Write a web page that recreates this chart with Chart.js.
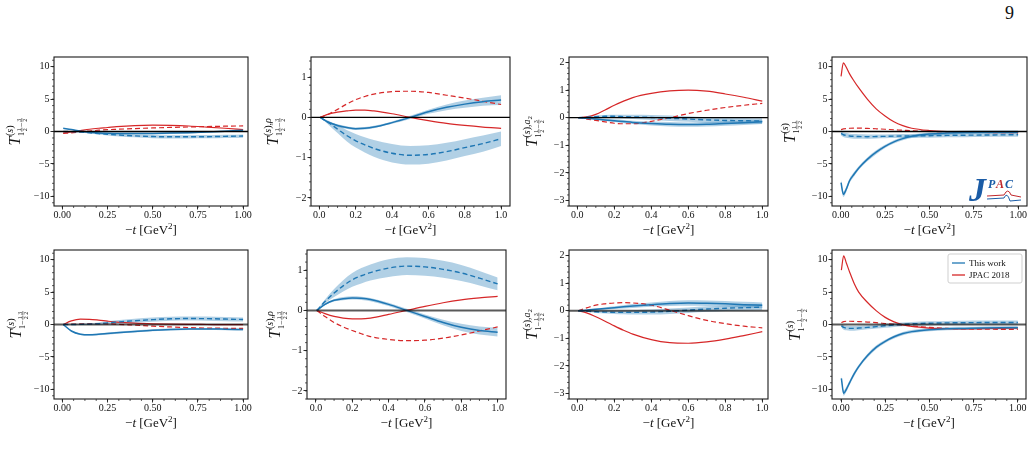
<!DOCTYPE html>
<html>
<head>
<meta charset="utf-8">
<script src="https://cdn.jsdelivr.net/npm/chart.js"></script>
<style>
  body { margin: 0; width: 1034px; height: 457px; overflow: hidden; position: relative; background: #fff;
         font-family: "Liberation Serif", "DejaVu Serif", serif; }
  .panel { position: absolute; }
  #pageno { position: absolute; left: 1005px; top: 3px; font-size: 18px; color: #111; }
</style>
</head>
<body>
<div id="pageno">9</div>
<script>
// ---- data ----
const tCoarse = [0.005, 0.05, 0.1, 0.15, 0.2, 0.25, 0.3, 0.4, 0.5, 0.6, 0.7, 0.8, 0.9, 1.0];
const tFine = [0.002, 0.015, 0.03, 0.05, 0.075, 0.1, 0.15, 0.2, 0.25, 0.3, 0.35, 0.4, 0.5, 0.6, 0.7, 0.8, 0.9, 1.0];

const xTicksQuarter = [0, 0.25, 0.5, 0.75, 1];
const xTicksFifth = [0, 0.2, 0.4, 0.6, 0.8, 1];
const yTicksWide = [-10, -5, 0, 5, 10];
const yTicksRho = [-2, -1, 0, 1];
const yTicksA2 = [-3, -2, -1, 0, 1, 2];

const legendLabels = ['This work', 'JPAC 2018'];

// row 1, col 1
const p1BlueSolid = [0.5, 0.3, 0.05, -0.12, -0.22, -0.28, -0.3, -0.32, -0.3, -0.25, -0.18, -0.08, 0.05, 0.2];
const p1BlueSolidErr = [0.05, 0.05, 0.06, 0.08, 0.1, 0.1, 0.1, 0.12, 0.12, 0.12, 0.12, 0.12, 0.12, 0.12];
const p1BlueDashed = [0, -0.02, -0.1, -0.2, -0.32, -0.42, -0.52, -0.68, -0.78, -0.82, -0.82, -0.8, -0.75, -0.7];
const p1BlueDashedErr = [0.05, 0.08, 0.1, 0.12, 0.15, 0.18, 0.2, 0.22, 0.25, 0.25, 0.25, 0.25, 0.25, 0.25];
const p1RedSolid = [-0.25, -0.05, 0.15, 0.35, 0.5, 0.62, 0.75, 0.92, 0.98, 0.95, 0.85, 0.68, 0.5, 0.3];
const p1RedDashed = [-0.3, -0.2, -0.05, 0.08, 0.2, 0.28, 0.34, 0.45, 0.55, 0.63, 0.7, 0.76, 0.82, 0.86];

// row 1, col 2
const p2BlueSolid = [0, -0.12, -0.2, -0.25, -0.28, -0.27, -0.24, -0.13, 0, 0.14, 0.25, 0.33, 0.39, 0.43];
const p2BlueSolidErr = [0, 0.02, 0.03, 0.03, 0.03, 0.03, 0.03, 0.03, 0.04, 0.05, 0.07, 0.09, 0.1, 0.12];
const p2BlueDashed = [0, -0.13, -0.29, -0.45, -0.58, -0.68, -0.77, -0.89, -0.94, -0.92, -0.85, -0.75, -0.65, -0.53];
const p2BlueDashedErr = [0, 0.05, 0.1, 0.14, 0.17, 0.19, 0.21, 0.23, 0.23, 0.23, 0.22, 0.21, 0.2, 0.18];
const p2RedSolid = [0, 0.08, 0.13, 0.16, 0.18, 0.18, 0.16, 0.09, 0, -0.08, -0.15, -0.2, -0.24, -0.27];
const p2RedDashed = [0, 0.08, 0.2, 0.33, 0.44, 0.52, 0.58, 0.64, 0.65, 0.62, 0.55, 0.48, 0.4, 0.32];

// row 1, col 3
const p3BlueSolid = [0, -0.02, -0.05, -0.08, -0.11, -0.14, -0.17, -0.21, -0.24, -0.25, -0.24, -0.21, -0.18, -0.15];
const p3BlueSolidErr = [0, 0.02, 0.03, 0.04, 0.05, 0.06, 0.06, 0.07, 0.08, 0.08, 0.08, 0.08, 0.08, 0.08];
const p3BlueDashed = [0, 0.02, 0.04, 0.05, 0.05, 0.04, 0.03, 0.01, -0.02, -0.05, -0.08, -0.1, -0.11, -0.12];
const p3BlueDashedErr = [0, 0.02, 0.04, 0.05, 0.06, 0.07, 0.08, 0.09, 0.1, 0.1, 0.1, 0.1, 0.1, 0.1];
const p3RedSolid = [0, 0.03, 0.12, 0.28, 0.45, 0.6, 0.73, 0.88, 0.97, 1.0, 0.96, 0.86, 0.74, 0.6];
const p3RedDashed = [0, -0.05, -0.1, -0.15, -0.2, -0.22, -0.22, -0.13, 0, 0.15, 0.27, 0.37, 0.45, 0.52];

// row 1, col 4
const p4BlueSolid = [-7.9, -9.7, -9.0, -7.6, -6.6, -5.7, -4.3, -3.2, -2.3, -1.6, -1.1, -0.75, -0.4, -0.25, -0.15, -0.1, -0.1, -0.1];
const p4BlueSolidErr = [0.4, 0.4, 0.4, 0.35, 0.35, 0.3, 0.3, 0.3, 0.25, 0.25, 0.25, 0.25, 0.25, 0.25, 0.25, 0.25, 0.25, 0.25];
const p4BlueDashed = [-0.3, -0.5, -0.6, -0.7, -0.75, -0.78, -0.8, -0.78, -0.75, -0.72, -0.7, -0.68, -0.65, -0.6, -0.57, -0.55, -0.52, -0.5];
const p4BlueDashedErr = [0.3, 0.35, 0.35, 0.35, 0.35, 0.35, 0.35, 0.3, 0.3, 0.3, 0.3, 0.3, 0.3, 0.3, 0.3, 0.3, 0.3, 0.3];
const p4RedSolid = [8.5, 10.6, 10.0, 8.9, 7.8, 6.8, 5.0, 3.5, 2.4, 1.5, 0.9, 0.5, 0.15, 0, -0.05, -0.1, -0.12, -0.15];
const p4RedDashed = [0.3, 0.4, 0.45, 0.5, 0.52, 0.52, 0.48, 0.42, 0.35, 0.27, 0.2, 0.12, 0.02, -0.05, -0.1, -0.15, -0.18, -0.2];

// row 2, col 1
const p5BlueSolid = [0, -1.0, -1.5, -1.6, -1.52, -1.4, -1.28, -1.08, -0.9, -0.78, -0.7, -0.68, -0.72, -0.78];
const p5BlueSolidErr = [0, 0.08, 0.12, 0.15, 0.15, 0.15, 0.15, 0.15, 0.15, 0.15, 0.15, 0.15, 0.15, 0.15];
const p5BlueDashed = [0, 0, 0.02, 0.06, 0.12, 0.25, 0.38, 0.58, 0.75, 0.88, 0.92, 0.9, 0.84, 0.77];
const p5BlueDashedErr = [0, 0.05, 0.1, 0.15, 0.2, 0.25, 0.28, 0.3, 0.32, 0.32, 0.32, 0.32, 0.32, 0.32];
const p5RedSolid = [0, 0.55, 0.82, 0.8, 0.68, 0.52, 0.38, 0.2, 0.1, 0.05, 0.02, 0, -0.02, -0.03];
const p5RedDashed = [0, 0.05, 0.1, 0.12, 0.12, 0.1, 0.05, -0.1, -0.25, -0.38, -0.48, -0.55, -0.58, -0.6];

// row 2, col 2
const p6BlueSolid = [0, 0.15, 0.25, 0.29, 0.31, 0.3, 0.27, 0.15, 0, -0.15, -0.3, -0.42, -0.5, -0.54];
const p6BlueSolidErr = [0, 0.02, 0.03, 0.04, 0.04, 0.04, 0.04, 0.04, 0.04, 0.05, 0.07, 0.09, 0.1, 0.11];
const p6BlueDashed = [0, 0.22, 0.43, 0.61, 0.76, 0.86, 0.94, 1.05, 1.1, 1.08, 1.02, 0.93, 0.8, 0.66];
const p6BlueDashedErr = [0, 0.05, 0.1, 0.14, 0.17, 0.19, 0.2, 0.22, 0.22, 0.22, 0.21, 0.2, 0.18, 0.16];
const p6RedSolid = [0, -0.08, -0.15, -0.19, -0.21, -0.21, -0.19, -0.1, 0, 0.1, 0.19, 0.26, 0.31, 0.35];
const p6RedDashed = [0, -0.15, -0.3, -0.41, -0.5, -0.58, -0.65, -0.72, -0.75, -0.74, -0.69, -0.61, -0.51, -0.41];

// row 2, col 3
const p7BlueSolid = [0, 0.02, 0.05, 0.08, 0.11, 0.14, 0.17, 0.22, 0.26, 0.28, 0.27, 0.25, 0.22, 0.2];
const p7BlueSolidErr = [0, 0.02, 0.03, 0.04, 0.05, 0.06, 0.07, 0.08, 0.09, 0.1, 0.1, 0.1, 0.1, 0.1];
const p7BlueDashed = [0, -0.02, -0.04, -0.05, -0.06, -0.06, -0.06, -0.05, -0.02, 0.02, 0.06, 0.09, 0.11, 0.13];
const p7BlueDashedErr = [0, 0.02, 0.04, 0.05, 0.06, 0.07, 0.08, 0.09, 0.1, 0.1, 0.1, 0.1, 0.1, 0.1];
const p7RedSolid = [0, -0.08, -0.22, -0.38, -0.55, -0.71, -0.85, -1.05, -1.16, -1.18, -1.13, -1.03, -0.9, -0.76];
const p7RedDashed = [0, 0.1, 0.2, 0.25, 0.28, 0.29, 0.28, 0.2, 0.02, -0.18, -0.35, -0.47, -0.56, -0.62];

// row 2, col 4
const p8BlueSolid = [-8.3, -10.6, -10.0, -8.9, -7.6, -6.5, -4.8, -3.5, -2.6, -1.9, -1.4, -1.1, -0.8, -0.65, -0.6, -0.55, -0.52, -0.5];
const p8BlueSolidErr = [0.4, 0.4, 0.4, 0.35, 0.35, 0.3, 0.3, 0.3, 0.25, 0.25, 0.25, 0.25, 0.25, 0.25, 0.25, 0.25, 0.25, 0.25];
const p8BlueDashed = [-0.2, -0.45, -0.55, -0.6, -0.6, -0.55, -0.45, -0.32, -0.2, -0.08, 0.02, 0.1, 0.2, 0.25, 0.28, 0.3, 0.3, 0.3];
const p8BlueDashedErr = [0.3, 0.35, 0.35, 0.35, 0.35, 0.35, 0.3, 0.3, 0.3, 0.3, 0.3, 0.3, 0.3, 0.3, 0.3, 0.3, 0.3, 0.3];
const p8RedSolid = [8.4, 10.6, 9.5, 8.0, 6.3, 5.0, 3.4, 2.1, 1.1, 0.4, -0.05, -0.3, -0.55, -0.65, -0.68, -0.65, -0.6, -0.55];
const p8RedDashed = [0.3, 0.45, 0.5, 0.5, 0.48, 0.45, 0.38, 0.28, 0.15, 0.02, -0.1, -0.22, -0.45, -0.6, -0.68, -0.72, -0.74, -0.75];

// ---- styling ----
const FONT = '"Liberation Serif", "DejaVu Serif", serif';
const BLUE = '#1f77b4';
const RED = '#d62728';
const BAND = 'rgba(31,119,180,0.35)';
const INK = '#111';

Chart.defaults.font.family = FONT;

// y-label subscripts: strings are plain, {frac} are stacked fractions
const half = { frac: ['1', '2'] };
const threeHalf = { frac: ['3', '2'] };
const subTop = ['1', half, '\u2212', threeHalf];
const subTopDiag = ['1', half, half];
const subBot = ['1', '\u2212', half, threeHalf];
const subBotDiag = ['1', '\u2212', half, '\u2212', half];

const panels = [
  { box: [54, 248, 57, 206], x: tCoarse, xr: [-0.046, 1.027], xt: xTicksQuarter, xd: 2, xm: 0.0625,
    yr: [-11.5, 11.5], yt: yTicksWide, ym: 1, row: 0, labX: 20, ex: '', sub: subTop,
    bs: p1BlueSolid, bsE: p1BlueSolidErr, bd: p1BlueDashed, bdE: p1BlueDashedErr, rs: p1RedSolid, rd: p1RedDashed },
  { box: [311, 510, 57, 206], x: tCoarse, xr: [-0.046, 1.049], xt: xTicksFifth, xd: 1, xm: 0.05,
    yr: [-2.2, 1.5], yt: yTicksRho, ym: 0.2, row: 0, labX: 278, ex: 'rho', sub: subTop,
    bs: p2BlueSolid, bsE: p2BlueSolidErr, bd: p2BlueDashed, bdE: p2BlueDashedErr, rs: p2RedSolid, rd: p2RedDashed },
  { box: [569, 768, 57, 206], x: tCoarse, xr: [-0.045, 1.031], xt: xTicksFifth, xd: 1, xm: 0.05,
    yr: [-3.2, 2.2], yt: yTicksA2, ym: 0.2, row: 0, labX: 537, ex: 'a2', sub: subTop,
    bs: p3BlueSolid, bsE: p3BlueSolidErr, bd: p3BlueDashed, bdE: p3BlueDashedErr, rs: p3RedSolid, rd: p3RedDashed },
  { box: [832, 1027, 57, 206], x: tFine, xr: [-0.049, 1.05], xt: xTicksQuarter, xd: 2, xm: 0.0625,
    yr: [-11.5, 11.5], yt: yTicksWide, ym: 1, row: 0, labX: 795, ex: '', sub: subTopDiag, logo: true,
    bs: p4BlueSolid, bsE: p4BlueSolidErr, bd: p4BlueDashed, bdE: p4BlueDashedErr, rs: p4RedSolid, rd: p4RedDashed },
  { box: [54, 248, 250, 399], x: tCoarse, xr: [-0.046, 1.027], xt: xTicksQuarter, xd: 2, xm: 0.0625,
    yr: [-11.5, 11.5], yt: yTicksWide, ym: 1, row: 1, labX: 21, ex: '', sub: subBot,
    bs: p5BlueSolid, bsE: p5BlueSolidErr, bd: p5BlueDashed, bdE: p5BlueDashedErr, rs: p5RedSolid, rd: p5RedDashed },
  { box: [307, 506, 250, 399], x: tCoarse, xr: [-0.049, 1.046], xt: xTicksFifth, xd: 1, xm: 0.05,
    yr: [-2.2, 1.5], yt: yTicksRho, ym: 0.2, row: 1, labX: 280, ex: 'rho', sub: subBot,
    bs: p6BlueSolid, bsE: p6BlueSolidErr, bd: p6BlueDashed, bdE: p6BlueDashedErr, rs: p6RedSolid, rd: p6RedDashed },
  { box: [569, 768, 250, 399], x: tCoarse, xr: [-0.045, 1.031], xt: xTicksFifth, xd: 1, xm: 0.05,
    yr: [-3.2, 2.2], yt: yTicksA2, ym: 0.2, row: 1, labX: 537, ex: 'a2', sub: subBot,
    bs: p7BlueSolid, bsE: p7BlueSolidErr, bd: p7BlueDashed, bdE: p7BlueDashedErr, rs: p7RedSolid, rd: p7RedDashed },
  { box: [832, 1026, 250, 399], x: tFine, xr: [-0.051, 1.046], xt: xTicksQuarter, xd: 2, xm: 0.0625,
    yr: [-11.5, 11.5], yt: yTicksWide, ym: 1, row: 1, labX: 800, ex: '', sub: subBotDiag, legend: true,
    bs: p8BlueSolid, bsE: p8BlueSolidErr, bd: p8BlueDashed, bdE: p8BlueDashedErr, rs: p8RedSolid, rd: p8RedDashed },
];

function fmtY(v) { return v < 0 ? '\u2212' + Math.abs(v) : String(v); }

// lays out T^{(s)...}_{...}; returns width. local y grows toward screen right after rotation
function mathLabel(ctx, p, draw, x0) {
  let x = x0;
  ctx.fillStyle = INK;
  ctx.font = `italic 16px ${FONT}`;
  if (draw) ctx.fillText('T', x, 0);
  x += ctx.measureText('T').width + 0.5;
  let xs = x;
  const sup = [['(', ''], ['s', 'italic '], [')', '']];
  if (p.ex === 'rho') sup.push([',', ''], ['\u03c1', 'italic ']);
  if (p.ex === 'a2') sup.push([',', ''], ['a', 'italic ']);
  for (const [s, st] of sup) {
    ctx.font = `${st}10px ${FONT}`;
    if (draw) ctx.fillText(s, xs, -7);
    xs += ctx.measureText(s).width;
  }
  if (p.ex === 'a2') {
    ctx.font = `7px ${FONT}`;
    if (draw) ctx.fillText('2', xs, -5);
    xs += ctx.measureText('2').width;
  }
  let xb = x;
  for (const tok of p.sub) {
    if (typeof tok === 'string') {
      ctx.font = `8px ${FONT}`;
      if (draw) ctx.fillText(tok, xb, 4);
      xb += ctx.measureText(tok).width + 0.4;
    } else {
      ctx.font = `6px ${FONT}`;
      const [n, d] = tok.frac;
      const w = Math.max(ctx.measureText(n).width, ctx.measureText(d).width) + 1;
      if (draw) {
        ctx.textAlign = 'center';
        ctx.fillText(n, xb + w / 2, 0.5);
        ctx.fillText(d, xb + w / 2, 7);
        ctx.textAlign = 'left';
        ctx.fillRect(xb, 1.6, w, 0.6);
      }
      xb += w + 0.6;
    }
  }
  return Math.max(xs, xb) - x0;
}

function xTitle(ctx, cx, y) {
  const parts = [['\u2212', '13px', 0], ['t', 'italic 13px', 0], [' [GeV', '13px', 0], ['2', '9px', -5], [']', '13px', 0]];
  let w = 0;
  for (const [s, f] of parts) { ctx.font = `${f} ${FONT}`; w += ctx.measureText(s).width; }
  let x = cx - w / 2;
  ctx.fillStyle = INK;
  for (const [s, f, dy] of parts) {
    ctx.font = `${f} ${FONT}`;
    ctx.fillText(s, x, y + dy);
    x += ctx.measureText(s).width;
  }
}

function makeChart(p) {
  const yW = 60, padT = 10, padR = 12, xH = 44;
  const [L, R, T, B] = p.box;
  const div = document.createElement('div');
  div.className = 'panel';
  div.style.left = (L - yW) + 'px';
  div.style.top = (T - padT) + 'px';
  div.style.width = (R - L + yW + padR) + 'px';
  div.style.height = (B - T + padT + xH) + 'px';
  const cv = document.createElement('canvas');
  div.appendChild(cv);
  document.body.appendChild(div);
  const offX = L - yW;

  const pts = ys => p.x.map((x, i) => ({ x, y: ys[i] }));
  const edge = (c, e, s) => p.x.map((x, i) => ({ x, y: c[i] + s * e[i] }));
  const base = { pointRadius: 0, cubicInterpolationMode: 'monotone', fill: false };

  const datasets = [
    { ...base, data: edge(p.bd, p.bdE, 1), borderWidth: 0, order: 9 },
    { ...base, data: edge(p.bd, p.bdE, -1), borderWidth: 0, fill: '-1', backgroundColor: BAND, order: 9 },
    { ...base, data: edge(p.bs, p.bsE, 1), borderWidth: 0, order: 8 },
    { ...base, data: edge(p.bs, p.bsE, -1), borderWidth: 0, fill: '-1', backgroundColor: BAND, order: 8 },
    { ...base, label: legendLabels[1], data: pts(p.rs), borderColor: RED, borderWidth: 1.2, order: 4 },
    { ...base, data: pts(p.rd), borderColor: RED, borderWidth: 1.2, borderDash: [5, 3], order: 4 },
    { ...base, label: legendLabels[0], data: pts(p.bs), borderColor: BLUE, borderWidth: 1.5, order: 2 },
    { ...base, data: pts(p.bd), borderColor: BLUE, borderWidth: 1.4, borderDash: [5, 3], order: 2 },
  ];

  const deco = {
    id: 'deco',
    afterDatasetsDraw(chart) {
      const ctx = chart.ctx, ca = chart.chartArea, ys = chart.scales.y;
      ctx.save();
      const y0 = ys.getPixelForValue(0);
      ctx.beginPath();
      ctx.moveTo(ca.left, y0);
      ctx.lineTo(ca.right, y0);
      ctx.strokeStyle = p.row === 0 ? '#000' : 'rgba(0,0,0,0.65)';
      ctx.lineWidth = p.row === 0 ? 1.3 : 2;
      ctx.stroke();
      ctx.strokeStyle = '#1a1a1a';
      ctx.lineWidth = 1.1;
      ctx.strokeRect(ca.left, ca.top, ca.right - ca.left, ca.bottom - ca.top);
      ctx.restore();
    },
    afterDraw(chart) {
      const ctx = chart.ctx, ca = chart.chartArea, xs = chart.scales.x, ys = chart.scales.y;
      ctx.save();
      // minor ticks
      ctx.strokeStyle = '#1a1a1a';
      ctx.lineWidth = 0.7;
      ctx.beginPath();
      for (let v = Math.ceil(p.yr[0] / p.ym) * p.ym; v <= p.yr[1]; v += p.ym) {
        const py = ys.getPixelForValue(v);
        ctx.moveTo(ca.left, py); ctx.lineTo(ca.left - 2, py);
      }
      for (let v = 0; v <= p.xr[1]; v += p.xm) {
        const px = xs.getPixelForValue(v);
        ctx.moveTo(px, ca.bottom); ctx.lineTo(px, ca.bottom + 2);
      }
      ctx.stroke();
      // axis titles
      ctx.textBaseline = 'alphabetic';
      ctx.textAlign = 'left';
      xTitle(ctx, (ca.left + ca.right) / 2, ca.bottom + 28);
      ctx.save();
      ctx.translate(p.labX - offX, (ca.top + ca.bottom) / 2);
      ctx.rotate(-Math.PI / 2);
      const w = mathLabel(ctx, p, false, 0);
      mathLabel(ctx, p, true, -w / 2);
      ctx.restore();
      if (p.legend) {
        const bx = ca.right - 78, by = ca.top + 4, bw = 74, bh = 29;
        ctx.fillStyle = 'rgba(255,255,255,0.85)';
        ctx.strokeStyle = '#cfcfcf';
        ctx.lineWidth = 1;
        ctx.beginPath();
        ctx.roundRect(bx, by, bw, bh, 2);
        ctx.fill(); ctx.stroke();
        [[BLUE, legendLabels[0]], [RED, legendLabels[1]]].forEach(([c, t], i) => {
          const ly = by + 9 + i * 12;
          ctx.strokeStyle = c; ctx.lineWidth = 1.3;
          ctx.beginPath(); ctx.moveTo(bx + 4, ly); ctx.lineTo(bx + 17, ly); ctx.stroke();
          ctx.fillStyle = INK; ctx.font = `9px ${FONT}`; ctx.textBaseline = 'middle';
          ctx.fillText(t, bx + 21, ly + 0.5);
        });
      }
      if (p.logo) {
        const r = ca.right, b = ca.bottom;
        ctx.textBaseline = 'alphabetic';
        ctx.fillStyle = '#1b5ca6';
        ctx.font = `italic bold 34px ${FONT}`;
        ctx.fillText('J', r - 58, b - 5);
        ctx.font = `italic bold 12px ${FONT}`;
        ctx.fillText('P', r - 39, b - 18);
        ctx.fillStyle = '#c0282d';
        ctx.fillText('A', r - 31, b - 18);
        ctx.fillStyle = '#1b5ca6';
        ctx.fillText('C', r - 22, b - 18);
        ctx.lineWidth = 1;
        ctx.strokeStyle = '#c0282d';
        ctx.beginPath();
        ctx.moveTo(r - 40, b - 10); ctx.lineTo(r - 23, b - 11);
        ctx.quadraticCurveTo(r - 19, b - 19, r - 16, b - 11);
        ctx.lineTo(r - 6, b - 9);
        ctx.stroke();
        ctx.strokeStyle = '#1b5ca6';
        ctx.beginPath();
        ctx.moveTo(r - 40, b - 7); ctx.lineTo(r - 23, b - 8);
        ctx.quadraticCurveTo(r - 20, b - 15, r - 17, b - 5);
        ctx.lineTo(r - 6, b - 6);
        ctx.stroke();
      }
      ctx.restore();
    }
  };

  const axisGrid = { display: true, drawOnChartArea: false, drawTicks: true, tickLength: 3.5, color: '#1a1a1a', lineWidth: 0.9 };
  new Chart(cv, {
    type: 'line',
    data: { datasets },
    options: {
      animation: false,
      responsive: true,
      maintainAspectRatio: false,
      devicePixelRatio: 1,
      layout: { padding: { left: 0, top: padT, right: padR, bottom: 0 } },
      plugins: { legend: { display: false }, tooltip: { enabled: false } },
      scales: {
        x: {
          type: 'linear', min: p.xr[0], max: p.xr[1],
          afterBuildTicks: s => { s.ticks = p.xt.map(v => ({ value: v })); },
          afterFit: s => { s.height = xH; },
          grid: axisGrid,
          border: { display: false },
          ticks: { font: { size: 10 }, color: INK, padding: 0, maxRotation: 0, autoSkip: false,
                   callback: v => Number(v).toFixed(p.xd) },
        },
        y: {
          type: 'linear', min: p.yr[0], max: p.yr[1],
          afterBuildTicks: s => { s.ticks = p.yt.map(v => ({ value: v })); },
          afterFit: s => { s.width = yW; },
          grid: axisGrid,
          border: { display: false },
          ticks: { font: { size: 10 }, color: INK, padding: 1, autoSkip: false, callback: v => fmtY(v) },
        },
      },
    },
    plugins: [deco],
  });
}

panels.forEach(makeChart);
</script>
</body>
</html>
